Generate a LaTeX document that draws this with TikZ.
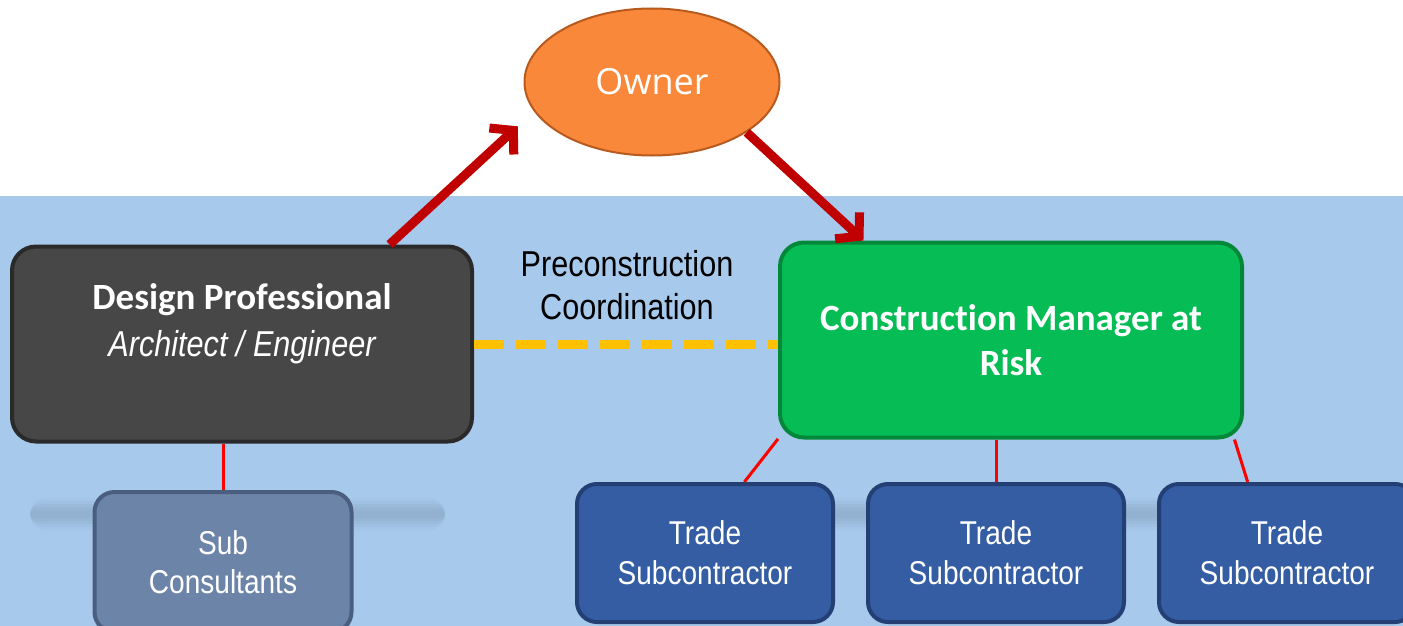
\documentclass[tikz,border=0pt]{standalone}
\usepackage{fontspec}
\setmainfont{Liberation Sans}
\newfontfamily\calfont[Ligatures={NoCommon}]{Carlito}
\newfontfamily\ownerfont{Open Sans}
\newfontfamily\narrowfont[FakeStretch=0.85]{Liberation Sans}
\usetikzlibrary{shapes.geometric,arrows.meta}
\definecolor{bgblue}{HTML}{A7C9EB}
\definecolor{dpgray}{HTML}{474747}
\definecolor{dpedge}{HTML}{2A2A2A}
\definecolor{cmgreen}{HTML}{06BD55}
\definecolor{cmedge}{HTML}{03883A}
\definecolor{subblue}{HTML}{6C84A8}
\definecolor{subedge}{HTML}{4A5F80}
\definecolor{tradeblue}{HTML}{355DA3}
\definecolor{tradeedge}{HTML}{233F73}
\definecolor{ownerorange}{HTML}{F9883A}
\definecolor{owneredge}{HTML}{B85A1E}
\definecolor{arrowred}{HTML}{C00000}
\definecolor{coordyellow}{HTML}{FFC000}
\definecolor{stripgray}{HTML}{7F9AB8}
\begin{document}
\begin{tikzpicture}[x=1pt,y=-1pt,
  box/.style={rectangle,rounded corners=24pt,line width=4pt,text=white,align=center,inner sep=0pt},
  tradebox/.style={box,rounded corners=20pt,fill=tradeblue,draw=tradeedge,minimum width=256pt,minimum height=138pt,
    font=\narrowfont\fontsize{33}{40}\selectfont},
  bigarrow/.style={arrowred,line width=9pt,-{Straight Barb[length=16pt,width=36pt,line width=9pt]}},
  thinline/.style={red,line width=3pt}]
\useasboundingbox (0,0) rectangle (1403,626);
\clip (0,0) rectangle (1403,626);
\fill[white] (0,0) rectangle (1403,196);
\fill[bgblue] (0,196) rectangle (1403,626);
% soft strips behind the lower boxes
\foreach \w/\o in {16/0.08,13/0.1,10/0.12,7/0.14,4/0.16} {
  \fill[stripgray,opacity=\o,rounded corners=\w pt] (30,514-\w) rectangle (445,514+\w);
  \fill[stripgray,opacity=\o,rounded corners=\w pt] (575,514-\w) rectangle (1403,514+\w);
}

\node[ellipse,fill=ownerorange,draw=owneredge,line width=2pt,minimum width=255pt,minimum height=147pt,
  text=white,font=\ownerfont\fontsize{36}{40}\selectfont] (owner) at (652,82) {Owner};

\node[box,fill=dpgray,draw=dpedge,minimum width=460pt,minimum height=195pt,font=\fontsize{36}{47}\selectfont] (dp) at (242,344)
  {{\calfont\bfseries\fontsize{37}{47}\selectfont Design Professional}\\ {\narrowfont\itshape Architect / Engineer}\\ \mbox{}};

\node[box,fill=cmgreen,draw=cmedge,minimum width=462pt,minimum height=195pt,
  font=\calfont\bfseries\fontsize{37}{45}\selectfont] (cm) at (1011,340) {Construction Manager at\\ Risk};

\node[align=center,font=\narrowfont\fontsize{36}{43}\selectfont] (precon) at (627,285) {Preconstruction\\ Coordination};

\node[box,rounded corners=20pt,fill=subblue,draw=subedge,minimum width=257pt,minimum height=140pt,
  font=\narrowfont\fontsize{33}{39}\selectfont] (sub) at (223,562) {Sub\\ Consultants};

\node[tradebox] (trade1) at (705,553) {Trade\\ Subcontractor};
\node[tradebox] (trade2) at (996,553) {Trade\\ Subcontractor};
\node[tradebox] (trade3) at (1287,553) {Trade\\ Subcontractor};

\draw[bigarrow,shorten >=22pt] (dp.34) -- (owner.194);
\draw[bigarrow] (owner.-28) -- (cm.146);
\draw[coordyellow,line width=9pt,dash pattern=on 30pt off 12pt] (dp.east) -- (dp.east -| cm.west);

\draw[thinline] (sub.north |- dp.south) -- (sub.north);
\draw[thinline] (cm.203) -- (trade1.61);
\draw[thinline] (trade2.north |- cm.south) -- (trade2.north);
\draw[thinline] (cm.-24.5) -- (trade3.119);
\end{tikzpicture}
\end{document}
